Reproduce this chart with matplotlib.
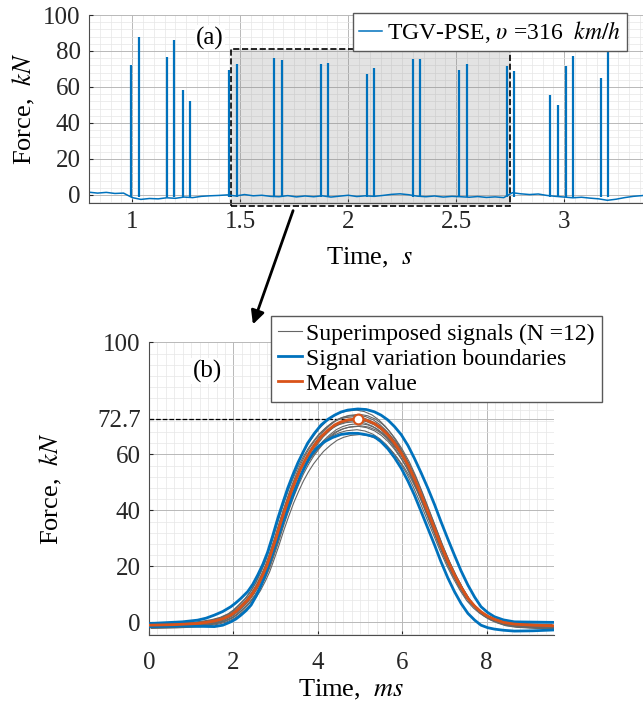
import numpy as np
import matplotlib
matplotlib.use("Agg")
import matplotlib.pyplot as plt
from matplotlib.patches import Rectangle
from matplotlib.ticker import MultipleLocator

plt.rcParams['font.family'] = ['Liberation Serif', 'DejaVu Serif']
plt.rcParams['mathtext.fontset'] = 'stix'

BLUE = '#0072BD'
ORANGE = '#D95319'

# ---- panel (a): measured force signal, baseline + wheel passage peaks
base_t = np.round(np.arange(0.80, 3.401, 0.04), 2)
base_v = [1.5, 1.0, 1.4, 0.8, 1.0, -1.5, -2.5, -2.0, -2.2, -1.6, -1.9, -1.2, -1.5,
          -0.8, -0.5, -0.3, 0.0, -0.6, 0.2, -0.5, -0.2, -0.8, -1.0, -0.4, -1.1, -0.6,
          -1.0, -0.5, -1.2, -0.7, -0.2, -0.9, -0.5, -0.8, -0.3, 0.3, 0.6, 0.1, -0.7,
          -1.0, -0.6, -1.2, -0.8, -1.0, -1.3, -0.9, -1.4, -1.1, -1.5, 1.2, 0.6, 0.2,
          0.5, -0.3, -0.8, -1.2, -1.6, -1.3, -1.8, -2.2, -3.0, -2.4, -1.5, -0.8, -0.4, 0.2]
peak_t = [0.996, 1.030, 1.161, 1.195, 1.234, 1.269, 1.447, 1.484, 1.657, 1.692,
          1.872, 1.906, 2.086, 2.121, 2.300, 2.333, 2.514, 2.548, 2.733, 2.767,
          2.935, 2.970, 3.008, 3.043, 3.171, 3.204]
peak_f = [72.0, 87.8, 76.9, 85.9, 58.5, 52.0, 69.3, 72.6, 75.9, 75.2,
          72.6, 73.1, 67.4, 70.7, 75.7, 75.7, 69.4, 73.0, 71.9, 68.7,
          55.4, 50.0, 71.5, 77.2, 64.8, 79.4]

# ---- panel (b): superimposed pulses (ms, kN)
t_ms = [0.0, 0.6, 1.15, 1.35, 1.55, 1.75, 1.94, 2.06, 2.18, 2.34, 2.46, 2.58, 2.70,
        2.80, 2.89, 3.01, 3.13, 3.25, 3.37, 3.49, 3.60, 3.72, 3.84, 3.96, 4.08,
        4.24, 4.40, 4.55, 4.71, 4.96, 5.15, 5.34, 5.50, 5.66, 5.82, 5.98, 6.14,
        6.29, 6.45, 6.61, 6.77, 6.92, 7.08, 7.24, 7.40, 7.56, 7.72, 7.87, 8.03,
        8.19, 8.40, 8.66, 9.10, 9.60]
mean_f = [-1.0, -0.8, -0.4, 0.0, 0.5, 1.3, 2.6, 3.9, 5.6, 8.0, 10.4, 13.3, 17.0,
          20.5, 24.5, 30.0, 36.0, 41.5, 46.7, 51.2, 55.0, 58.5, 61.5, 64.0, 66.3,
          68.6, 70.5, 71.6, 72.3, 72.7, 72.2, 71.0, 69.3, 67.0, 64.0, 60.4, 56.2,
          51.4, 45.6, 39.5, 33.4, 27.6, 22.0, 17.0, 12.5, 8.6, 5.8, 3.8, 2.2,
          1.1, 0.0, -0.6, -1.0, -1.2]
up_t = [0.0, 0.79, 1.15, 1.35, 1.55, 1.75, 1.94, 2.06, 2.18, 2.34, 2.46, 2.58, 2.70,
        2.81, 2.93, 3.05, 3.17, 3.29, 3.41, 3.53, 3.65, 3.76, 3.92, 4.08, 4.24,
        4.40, 4.55, 4.71, 4.95, 5.15, 5.34, 5.50, 5.66, 5.82, 5.98, 6.14, 6.29,
        6.45, 6.61, 6.77, 6.92, 7.08, 7.24, 7.40, 7.56, 7.72, 7.87, 8.03, 8.19,
        8.40, 8.66, 9.60]
up_f = [-0.4, 0.2, 0.8, 1.5, 2.6, 3.9, 5.6, 7.0, 8.6, 11.0, 13.6, 17.0, 20.8,
        25.0, 30.8, 37.0, 42.6, 48.0, 52.7, 57.0, 60.7, 64.0, 67.5, 70.5, 72.5,
        74.0, 75.1, 75.8, 76.2, 76.0, 75.2, 74.0, 72.3, 69.9, 67.0, 63.1, 58.6,
        53.4, 47.9, 42.0, 36.0, 29.9, 24.0, 18.3, 13.3, 9.0, 5.6, 3.5, 2.0,
        0.9, 0.2, 0.0]
lo_t = [0.0, 0.79, 1.55, 1.75, 1.94, 2.06, 2.18, 2.30, 2.42, 2.54, 2.66, 2.74, 2.81,
        2.89, 2.97, 3.05, 3.13, 3.25, 3.37, 3.49, 3.60, 3.72, 3.84, 4.00, 4.16,
        4.35, 4.55, 4.75, 4.95, 5.15, 5.34, 5.50, 5.66, 5.82, 5.98, 6.14, 6.29,
        6.45, 6.61, 6.77, 6.92, 7.08, 7.24, 7.40, 7.56, 7.72, 7.87, 8.03, 8.19,
        8.40, 8.66, 9.10, 9.60]
lo_f = [-1.5, -1.3, -1.5, -1.0, 0.2, 1.2, 2.6, 4.2, 6.2, 9.4, 13.3, 16.2, 19.3,
        22.8, 26.4, 30.0, 33.6, 38.8, 43.7, 48.4, 52.6, 56.5, 59.8, 62.6, 64.5,
        66.0, 67.1, 67.5, 67.5, 67.0, 66.3, 64.5, 62.0, 58.8, 55.0, 50.4, 45.5,
        39.6, 33.6, 27.6, 21.7, 16.0, 11.0, 6.7, 3.2, 0.8, -1.0, -1.9, -2.4,
        -2.8, -3.1, -3.0, -2.7]
# individual signals: peak value, time offset (ms), baseline offset
sig_peak = [75.5, 74.8, 74.0, 73.5, 73.0, 72.5, 72.0, 71.5, 70.8, 70.0, 69.2, 68.3]
sig_dt = [-0.05, 0.03, -0.02, 0.05, -0.06, 0.00, 0.04, -0.04, 0.06, 0.01, -0.03, 0.06]
sig_off = [0.3, -0.5, 0.0, -0.8, 0.5, -0.3, -1.0, 0.2, -0.6, 0.0, -0.4, -1.2]
mean_peak_t, mean_peak_f = 4.96, 72.7

fig = plt.figure(figsize=(6.43, 7.06), dpi=100)

# ---------------- (a)
ax1 = fig.add_axes([89 / 643, 1 - 203 / 706, 561.6 / 643, 188 / 706])
ax1.set_xlim(0.8, 3.4)
ax1.set_ylim(-4.5, 100)
ax1.add_patch(Rectangle((1.458, -6), 2.749 - 1.458, 87.3, facecolor=(0.5, 0.5, 0.5, 0.22),
                        edgecolor='k', ls='--', lw=1.2, clip_on=False, zorder=1.5))
line_a, = ax1.plot(base_t, base_v, color=BLUE, lw=1.1, zorder=2)
ax1.vlines(peak_t, -1, peak_f, color=BLUE, lw=1.6, zorder=2)
ax1.set_xticks([1, 1.5, 2, 2.5, 3])
ax1.set_xticklabels(['1', '1.5', '2', '2.5', '3'])
ax1.set_yticks([0, 20, 40, 60, 80, 100])
ax1.xaxis.set_minor_locator(MultipleLocator(0.05))
ax1.yaxis.set_minor_locator(MultipleLocator(4))
ax1.set_xlabel(r'Time,  $s$', fontsize=19, labelpad=9)
ax1.set_ylabel(r'Force,  $kN$', fontsize=19)
ax1.yaxis.set_label_coords(-0.093, 0.5)
ax1.text(1.36, 87, '(a)', fontsize=18, ha='center', va='center',
         bbox=dict(facecolor='white', edgecolor='none', pad=1))
fig.legend([line_a], [r'TGV-PSE, $\upsilon$ =316  $km/h$'], loc='upper right',
           bbox_to_anchor=(627 / 643, 1 - 13 / 706), fontsize=17, handlelength=1.0,
           handletextpad=0.2, borderpad=0.25, borderaxespad=0, fancybox=False,
           framealpha=1, edgecolor='0.35')

# ---------------- (b)
ax2 = fig.add_axes([149 / 643, 1 - 635 / 706, 405 / 643, 292.7 / 706])
ax2.set_xlim(0, 9.6)
ax2.set_ylim(-4.5, 100)
mean_arr = np.array(mean_f)
for pk, dt, off in zip(sig_peak, sig_dt, sig_off):
    g, = ax2.plot(np.array(t_ms) + dt, mean_arr * pk / mean_peak_f + off,
                  color='0.4', lw=0.8, zorder=2)
b, = ax2.plot(up_t, up_f, color=BLUE, lw=2.0, zorder=3)
ax2.plot(lo_t, lo_f, color=BLUE, lw=2.0, zorder=3)
m, = ax2.plot(t_ms, mean_f, color=ORANGE, lw=2.0, zorder=4)
ax2.plot([0, mean_peak_t], [mean_peak_f, mean_peak_f], 'k--', lw=0.9, zorder=1.5)
ax2.plot([mean_peak_t], [mean_peak_f], 'o', ms=7, mfc='white', mec=ORANGE, mew=1.5, zorder=5)
ax2.set_xticks([0, 2, 4, 6, 8])
ax2.set_yticks([0, 20, 40, 60, 72.7, 100])
ax2.set_yticklabels(['0', '20', '40', '60', '72.7', '100'])
ax2.xaxis.set_minor_locator(MultipleLocator(0.2))
ax2.yaxis.set_minor_locator(MultipleLocator(4))
ax2.set_xlabel(r'Time,  $ms$', fontsize=19, labelpad=3)
ax2.set_ylabel(r'Force,  $kN$', fontsize=19)
ax2.yaxis.set_label_coords(-0.21, 0.5)
ax2.text(1.375, 89.7, '(b)', fontsize=18, ha='center', va='center',
         bbox=dict(facecolor='white', edgecolor='none', pad=1))
fig.legend([g, b, m], ['Superimposed signals (N =12)', 'Signal variation boundaries',
                       'Mean value'], loc='upper right',
           bbox_to_anchor=(602 / 643, 1 - 316 / 706), fontsize=17, handlelength=1.0,
           handletextpad=0.2, borderpad=0.3, labelspacing=0.15, borderaxespad=0,
           fancybox=False, framealpha=1, edgecolor='0.35')

for ax in (ax1, ax2):
    ax.set_axisbelow(True)
    ax.grid(which='major', color='0.72', lw=0.7)
    ax.grid(which='minor', color='0.9', lw=0.5)
    ax.spines['top'].set_visible(False)
    ax.spines['right'].set_visible(False)
    ax.spines['left'].set_color('0.3')
    ax.spines['bottom'].set_color('0.3')
    ax.tick_params(which='both', direction='in', labelsize=18, colors='0.15', pad=6)
    ax.tick_params(which='minor', length=0)
    ax.tick_params(which='major', length=3)
ax2.tick_params(axis='x', pad=12)

# arrow from zoom box to panel (b)
ax1.annotate('', xy=(252, 706 - 327), xycoords='figure pixels',
             xytext=(294, 706 - 208), textcoords='figure pixels',
             arrowprops=dict(arrowstyle='-|>', color='k', lw=2, mutation_scale=20))

fig.savefig('out.png', dpi=100)
